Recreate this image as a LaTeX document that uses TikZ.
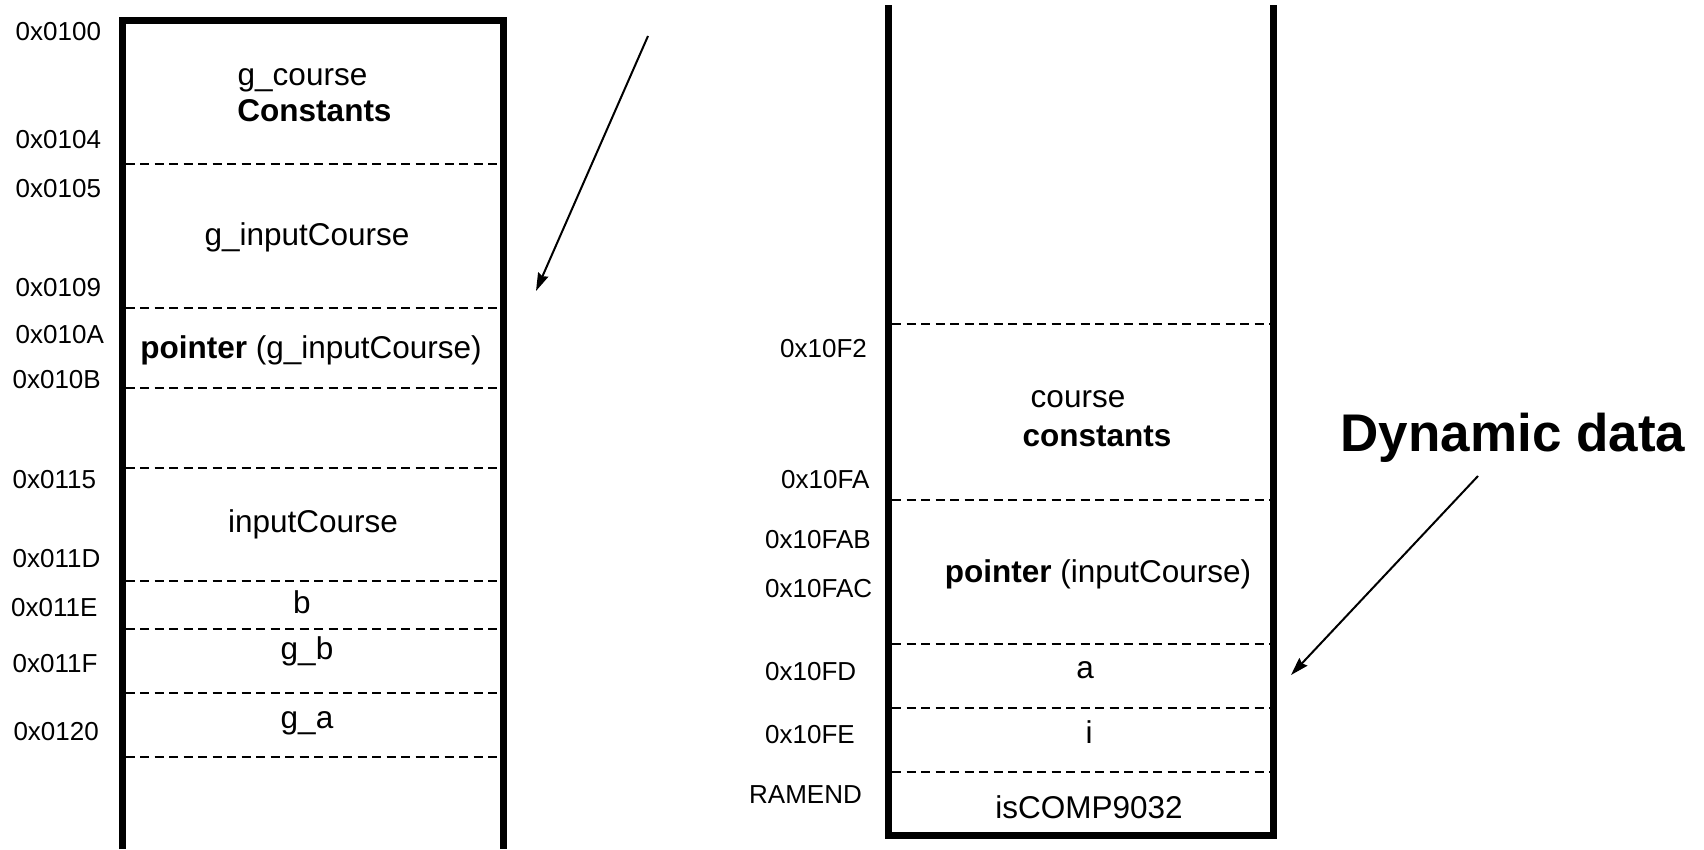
\documentclass[tikz,border=0pt]{standalone}
\usepackage{fontspec}
\setmainfont{Liberation Sans}
\usetikzlibrary{arrows.meta}

\newcommand\addrfont{\fontsize{26}{30}\selectfont}
\newcommand\cellfont{\fontsize{31.5}{36}\selectfont}
\newcommand\bigfont{\fontsize{53}{60}\selectfont\bfseries}

\tikzset{
  wall/.style={line width=7pt, line join=miter},
  sep/.style={line width=2pt, dash pattern=on 9pt off 5.5pt},
  addr/.style={font=\addrfont, anchor=base west, inner sep=0pt},
  cell/.style={font=\cellfont, anchor=base, inner sep=0pt},
  pointer/.style={line width=2pt, -{Stealth[length=18pt,width=11pt,inset=2pt]}},
}

\begin{document}
\begin{tikzpicture}[x=1pt,y=-1pt]
\useasboundingbox (0,0) rectangle (1704,849);
\fill[white] (0,0) rectangle (1704,849);

% ---- data segment (left column) ----
\draw[wall] (122,849) -- (122,20.5) -- (503,20.5) -- (503,849);
\foreach \y in {164,308,388,468,581,629,693,757}
  \draw[sep] (125.5,\y) -- (499.5,\y);

\node[addr] (a0100) at (15.5,40)  {0x0100};
\node[addr] (a0104) at (15.5,148) {0x0104};
\node[addr] (a0105) at (15.5,197) {0x0105};
\node[addr] (a0109) at (15.5,296) {0x0109};
\node[addr] (a010A) at (15.5,343) {0x010A};
\node[addr] (a010B) at (12.4,388) {0x010B};
\node[addr] (a0115) at (12.4,488) {0x0115};
\node[addr] (a011D) at (12.4,567) {0x011D};
\node[addr] (a011E) at (11,616)   {0x011E};
\node[addr] (a011F) at (12.4,672) {0x011F};
\node[addr] (a0120) at (13.3,740) {0x0120};

\node[cell] (gcourse) at (302.5,85)  {g\_course};
\node[cell,font=\cellfont\bfseries] (gconst) at (314.5,121.7) {Constants};
\node[cell] (ginput)  at (307,245)   {g\_inputCourse};
\node[cell] (gptr)    at (311,358)   {\textbf{pointer} (g\_inputCourse)};
\node[cell] (input)   at (313,532)   {inputCourse};
\node[cell] (vb)      at (302,613)   {b};
\node[cell] (vgb)     at (307,659)   {g\_b};
\node[cell] (vga)     at (307,728)   {g\_a};

\coordinate (arrAstart) at (648,36);
\coordinate (arrAend)   at (536,291);
\draw[pointer] (arrAstart) -- (arrAend);

% ---- stack (right column) ----
\draw[wall] (888.5,5) -- (888.5,835) -- (1273.5,835) -- (1273.5,5);
\foreach \y in {324,500,644,708,772}
  \draw[sep] (892,\y) -- (1270,\y);

\node[addr] (a10F2)  at (780,357) {0x10F2};
\node[addr] (a10FA)  at (781,488) {0x10FA};
\node[addr] (a10FAB) at (765,548) {0x10FAB};
\node[addr] (a10FAC) at (765,597) {0x10FAC};
\node[addr] (a10FD)  at (765,680) {0x10FD};
\node[addr] (a10FE)  at (765,743) {0x10FE};
\node[addr] (aram)   at (749,803) {RAMEND};

\node[cell] (course) at (1078,407) {course};
\node[cell,font=\cellfont\bfseries] (cconst) at (1097,446) {constants};
\node[cell] (ptr)    at (1098,582) {\textbf{pointer} (inputCourse)};
\node[cell] (va)     at (1085,678) {a};
\node[cell] (vi)     at (1089,743) {i};
\node[cell] (vcomp)  at (1089,818) {isCOMP9032};

\node[anchor=base, inner sep=0pt, font=\bigfont] (dyn) at (1513,451) {Dynamic data};
\coordinate (arrBstart) at (1478,476);
\coordinate (arrBend)   at (1291,675);
\draw[pointer] (arrBstart) -- (arrBend);
\end{tikzpicture}
\end{document}
